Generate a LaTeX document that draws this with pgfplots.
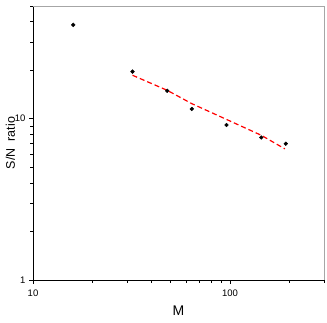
\documentclass[border=0pt]{standalone}
\usepackage{pgfplots}
\pgfplotsset{compat=1.18}
\usepackage{fontspec}
\setmainfont{Liberation Sans}
\begin{document}
\begin{tikzpicture}
\begin{axis}[
  scale only axis, width=291pt, height=274pt,
  xmode=log, ymode=log,
  xmin=10, xmax=300, ymin=1, ymax=50,
  axis x line*=bottom, axis y line*=left,
  axis line style={black, line width=0.6pt},
  xtick={10,100}, xticklabels={10,100},
  ytick={1,10}, yticklabels={1,10},
  minor xtick={20,30,40,50,60,70,80,90,200,300},
  minor ytick={2,3,4,5,6,7,8,9,20,30,40,50},
  tick align=outside,
  major tick length=4pt, minor tick length=3pt,
  tick style={black, line width=0.5pt},
  ticklabel style={font=\fontsize{9.5}{10}\selectfont},
  xticklabel style={yshift=-2pt},
  /pgf/number format/assume math mode=true,
  xlabel={M}, ylabel={S/N\ \ ratio},
  xlabel style={font=\fontsize{14}{15}\selectfont, yshift=-3pt},
  ylabel style={font=\fontsize{12.5}{14}\selectfont, yshift=-7pt},
  clip=false,
]
\addplot[only marks, mark=*, mark size=1.9pt, black] coordinates {
  (16,38.2) (32,19.6) (48,14.9) (64,11.5) (96,9.15) (144,7.65) (192,7.0)
};
\addplot[red, line width=1.2pt, dash pattern=on 5pt off 3pt] coordinates {
  (32,18.6) (48,15.0) (64,12.4) (96,9.9) (144,7.9) (190,6.5)
};
\draw[gray!70, line width=0.8pt] (rel axis cs:0,1) -- (rel axis cs:1,1) -- (rel axis cs:1,0);
\coordinate (bl) at (rel axis cs:0,0);
\coordinate (tr) at (rel axis cs:1,1);
\end{axis}
\pgfresetboundingbox
\path (bl) ++(-33pt,-42pt) coordinate (a);
\path (tr) ++(3pt,6pt) coordinate (b);
\path[use as bounding box] (a) rectangle (b);
\end{tikzpicture}
\end{document}
